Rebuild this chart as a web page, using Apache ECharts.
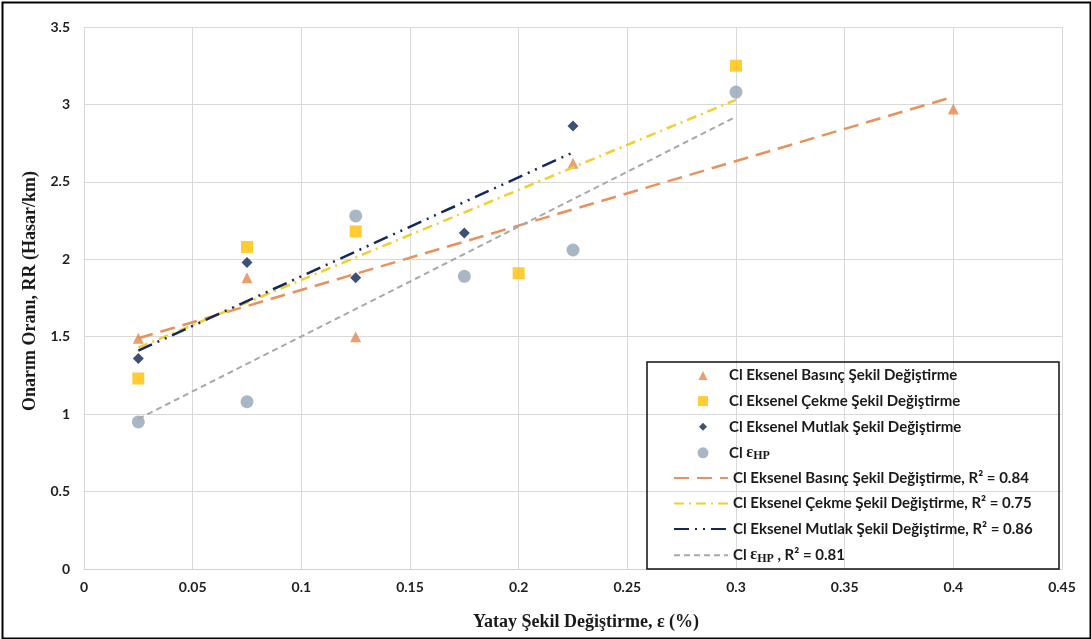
<!DOCTYPE html>
<html>
<head>
<meta charset="utf-8">
<script src="https://cdn.jsdelivr.net/npm/echarts@6/dist/echarts.min.js"></script>
<style>html,body{margin:0;padding:0;background:#fff;}#c{width:1091px;height:639px;}</style>
</head>
<body>
<div id="c"></div>
<script>
// ---- data ----
const xTickLabels = ['0','0.05','0.1','0.15','0.2','0.25','0.3','0.35','0.4','0.45'];
const yTickLabels = ['0','0.5','1','1.5','2','2.5','3','3.5'];

const basincX = [0.025, 0.075, 0.125, 0.225, 0.4];
const basincY = [1.49, 1.88, 1.50, 2.62, 2.97];
const cekmeX  = [0.025, 0.075, 0.125, 0.2, 0.3];
const cekmeY  = [1.23, 2.08, 2.18, 1.91, 3.25];
const mutlakX = [0.025, 0.075, 0.125, 0.175, 0.225];
const mutlakY = [1.36, 1.98, 1.88, 2.17, 2.86];
const ehpX    = [0.025, 0.075, 0.125, 0.175, 0.225, 0.3];
const ehpY    = [0.95, 1.08, 2.28, 1.89, 2.06, 3.08];

// trend line end points
const trendBasincX = [0.025, 0.4];   const trendBasincY = [1.49, 3.05];
const trendCekmeX  = [0.025, 0.3];   const trendCekmeY  = [1.43, 3.03];
const trendMutlakX = [0.025, 0.225]; const trendMutlakY = [1.41, 2.69];
const trendEhpX    = [0.025, 0.3];   const trendEhpY    = [0.97, 2.92];

const names = [
  'Cl Eksenel Basınç Şekil Değiştirme',
  'Cl Eksenel Çekme Şekil Değiştirme',
  'Cl Eksenel Mutlak Şekil Değiştirme',
  'Cl εHP',
  'Cl Eksenel Basınç Şekil Değiştirme, R² = 0.84',
  'Cl Eksenel Çekme Şekil Değiştirme, R² = 0.75',
  'Cl Eksenel Mutlak Şekil Değiştirme, R² = 0.86',
  'Cl εHP , R² = 0.81'
];

function pairs(xs, ys){ return xs.map((x,i)=>[x, ys[i]]); }

const C_OR = '#E4884C', C_YE = '#FFC000', C_NV = '#0E2452', C_GR = '#93A5B5';

const series = [
  {name:names[0], type:'scatter', symbol:'triangle', symbolSize:11, itemStyle:{color:C_OR}, data:pairs(basincX,basincY), z:3},
  {name:names[1], type:'scatter', symbol:'rect', symbolSize:12, itemStyle:{color:C_YE}, data:pairs(cekmeX,cekmeY), z:3},
  {name:names[2], type:'scatter', symbol:'diamond', symbolSize:11, itemStyle:{color:C_NV}, data:pairs(mutlakX,mutlakY), z:3},
  {name:names[3], type:'scatter', symbol:'circle', symbolSize:13, itemStyle:{color:C_GR}, data:pairs(ehpX,ehpY), z:3},
  {name:names[4], type:'line', symbol:'none', lineStyle:{color:'#E8915A', width:2.5, type:[15,8]}, itemStyle:{color:'#E8915A'}, data:pairs(trendBasincX,trendBasincY), z:4},
  {name:names[5], type:'line', symbol:'none', lineStyle:{color:'#F2CE2E', width:2.5, type:[10,5,2,5]}, itemStyle:{color:'#F2CE2E'}, data:pairs(trendCekmeX,trendCekmeY), z:4},
  {name:names[6], type:'line', symbol:'none', lineStyle:{color:'#14285A', width:2.5, type:[15,6,2,6,2,6]}, itemStyle:{color:'#14285A'}, data:pairs(trendMutlakX,trendMutlakY), z:4},
  {name:names[7], type:'line', symbol:'none', lineStyle:{color:'#A9A9A9', width:2, type:[6,4]}, itemStyle:{color:'#A9A9A9'}, data:pairs(trendEhpX,trendEhpY), z:4}
];

const legRich = {
  e:{fontFamily:'Liberation Serif', fontSize:16, fontWeight:'bold', color:'#1a1a1a'},
  s:{fontFamily:'Liberation Serif', fontSize:12, fontWeight:'bold', color:'#1a1a1a', padding:[7,0,0,0]}
};
const rowTop = 368, rowStep = 25.6;
const legends = names.map((n,i)=>{
  const isLine = i >= 4;
  const sz = [9,10,8,11][i] || 14;
  const lg = {
    data:[n],
    orient:'vertical',
    left: isLine ? 673 : 703 - sz/2,
    top: rowTop + i*rowStep,
    padding:0,
    itemWidth: isLine ? 54 : sz,
    itemHeight: isLine ? 14 : sz,
    itemGap: 0,
    selectedMode:false,
    z: 10,
    textStyle:{fontFamily:'Lato', fontWeight:'bold', fontSize:15, color:'#1a1a1a', rich:legRich, padding: isLine ? [0,0,0,0] : [0,0,0, 729 - (703 + sz/2) - 5]},
    formatter: nm => nm.replace('εHP', '{e|ε}{s|HP}')
  };
  if (isLine) lg.itemStyle = {opacity:0};
  return lg;
});

const chart = echarts.init(document.getElementById('c'), null, {renderer:'canvas'});
chart.setOption({
  backgroundColor:'#fff',
  animation:false,
  grid:{left:84, right:29, top:27, bottom:70, containLabel:false},
  xAxis:{
    type:'value', min:0, max:0.45, interval:0.05,
    name:'Yatay Şekil Değiştirme, ε (%)', nameLocation:'middle', nameGap:44,
    nameTextStyle:{fontFamily:'Liberation Serif', fontWeight:'bold', fontSize:18, color:'#1a1a1a', padding:[0,0,0,26]},
    axisLine:{show:true, lineStyle:{color:'#d0d0d0', width:1}},
    axisTick:{show:false},
    axisLabel:{margin:11, fontFamily:'Lato', fontWeight:'bold', fontSize:14, color:'#1f1f1f',
      formatter:(v)=>{ const i=Math.round(v/0.05); return xTickLabels[i]!==undefined?xTickLabels[i]:''; }},
    splitLine:{show:true, lineStyle:{color:'#d9d9d9', width:1}}
  },
  yAxis:{
    type:'value', min:0, max:3.5, interval:0.5,
    name:'Onarım Oranı, RR (Hasar/km)', nameLocation:'middle', nameGap:38,
    nameTextStyle:{fontFamily:'Liberation Serif', fontWeight:'bold', fontSize:18, color:'#1a1a1a', padding:[0,0,0,14]},
    axisLine:{show:true, lineStyle:{color:'#d9d9d9', width:1}},
    axisTick:{show:false},
    axisLabel:{margin:14, fontFamily:'Lato', fontWeight:'bold', fontSize:14, color:'#1f1f1f',
      formatter:(v)=>{ const i=Math.round(v/0.5); return yTickLabels[i]!==undefined?yTickLabels[i]:''; }},
    splitLine:{show:true, lineStyle:{color:'#d9d9d9', width:1}}
  },
  legend: legends,
  graphic:[
    {type:'rect', left:0, top:0, z:-10, shape:{x:1, y:1, width:1088, height:636}, style:{fill:'none', stroke:'#000', lineWidth:2}, silent:true},
    {type:'rect', z:1, shape:{x:647, y:362, width:412, height:207}, style:{fill:'none', stroke:'#111', lineWidth:1.5}, silent:true}
  ],
  series: series
});
</script>
</body>
</html>
